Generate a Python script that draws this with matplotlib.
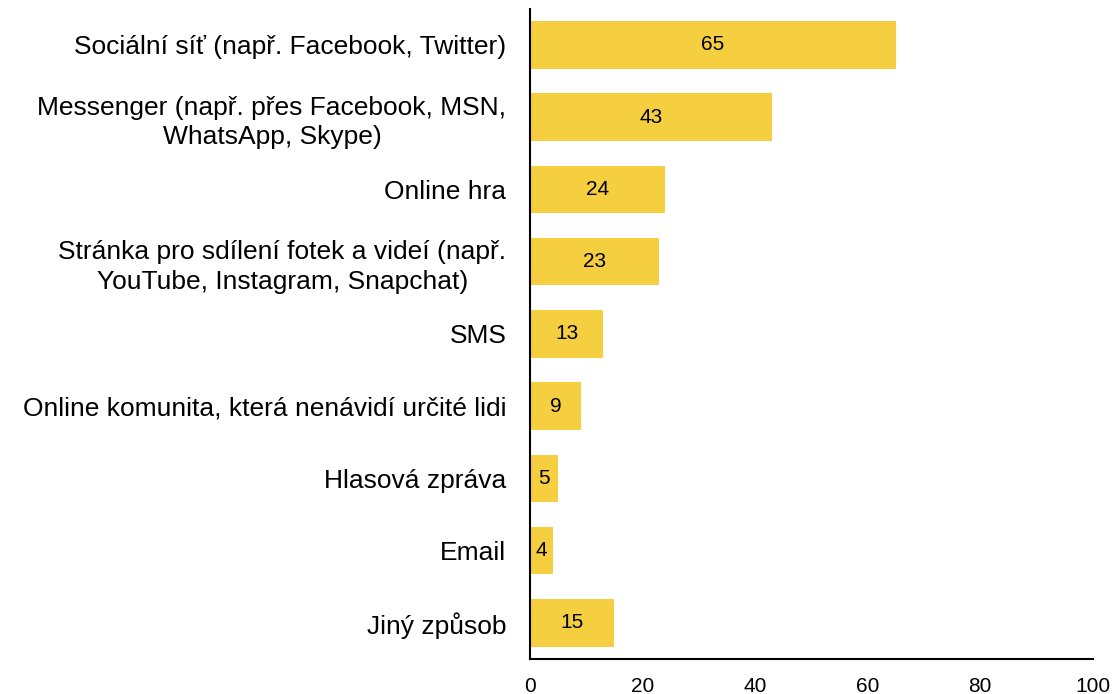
import matplotlib.pyplot as plt

plt.rcParams['font.family'] = ['Liberation Sans', 'DejaVu Sans']

categories = [
    "Sociální síť (např. Facebook, Twitter)",
    "Messenger (např. přes Facebook, MSN,\nWhatsApp, Skype)",
    "Online hra",
    "Stránka pro sdílení fotek a videí (např.\nYouTube, Instagram, Snapchat)",
    "SMS",
    "Online komunita, která nenávidí určité lidi",
    "Hlasová zpráva",
    "Email",
    "Jiný způsob",
]
values = [65, 43, 24, 23, 13, 9, 5, 4, 15]
xticks = [0, 20, 40, 60, 80, 100]

fig = plt.figure(figsize=(11.16, 6.94), dpi=100)
ax = fig.add_axes([0.475, 0.0504, 0.504, 0.937])

ypos = list(range(len(categories)))
bars = ax.barh(ypos, values, height=0.66, color='#F5CF40')
for y, v in zip(ypos, values):
    ax.text(v / 2, y, str(v), ha='center', va='center', fontsize=15, color='black')

ax.set_ylim(len(categories) - 0.5, -0.5)
ax.set_xlim(0, 100)
ax.set_yticks(ypos)
ax.set_yticklabels(categories, fontsize=19, multialignment='center', linespacing=1.3)
ax.set_xticks(xticks)
ax.set_xticklabels([str(t) for t in xticks], fontsize=15)
ax.tick_params(axis='both', length=0)
ax.tick_params(axis='y', pad=17)
ax.tick_params(axis='x', pad=13)
for s in ['top', 'right']:
    ax.spines[s].set_visible(False)
for s in ['left', 'bottom']:
    ax.spines[s].set_linewidth(1.5)
    ax.spines[s].set_color('black')

fig.savefig('out.png', dpi=100)
